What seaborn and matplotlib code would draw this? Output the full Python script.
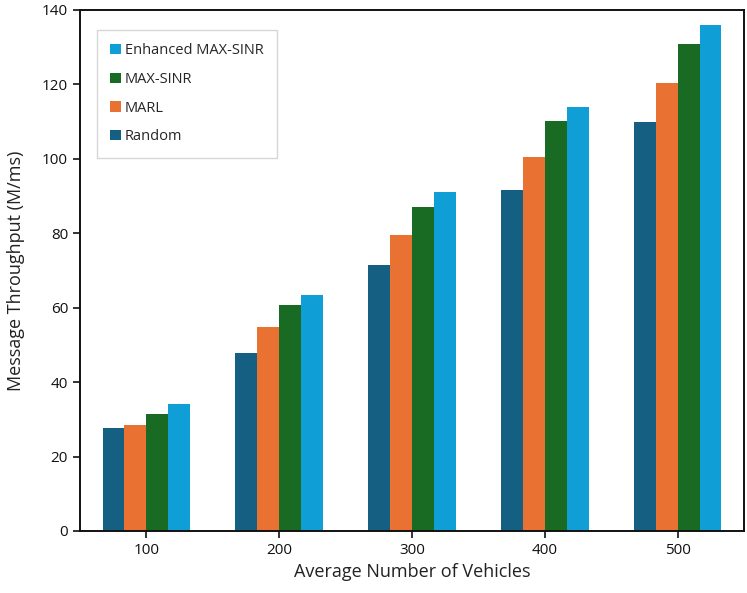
import numpy as np
import pandas as pd
import matplotlib
matplotlib.use("Agg")
import matplotlib.pyplot as plt
import seaborn as sns

# data
vehicles = ["100", "200", "300", "400", "500"]
random_tp = [27.6, 47.8, 71.5, 91.7, 110.0]
marl_tp = [28.6, 54.8, 79.6, 100.5, 120.5]
maxsinr_tp = [31.3, 60.6, 87.1, 110.2, 130.9]
enhanced_tp = [34.2, 63.3, 91.1, 114.0, 135.9]

methods = ["Random", "MARL", "MAX-SINR", "Enhanced MAX-SINR"]
colors = ["#156082", "#E97132", "#196B24", "#0F9ED5"]

df = pd.DataFrame({
    "vehicles": vehicles * 4,
    "throughput": random_tp + marl_tp + maxsinr_tp + enhanced_tp,
    "method": np.repeat(methods, len(vehicles)),
})

sns.set_style("white")
plt.rcParams["font.family"] = ["Open Sans", "DejaVu Sans"]

fig = plt.figure(figsize=(7.47, 5.93), dpi=100)
ax = fig.add_axes([0.107, 0.1046, 0.889, 0.8786])

sns.barplot(data=df, x="vehicles", y="throughput", hue="method",
            hue_order=methods, palette=colors, width=0.66,
            linewidth=0, saturation=1, ax=ax)

ax.set_xlim(-0.5, 4.5)
ax.set_ylim(0, 140)
ax.set_yticks(range(0, 141, 20))
ax.set_xlabel("Average Number of Vehicles", fontsize=13, color="#222222", labelpad=4)
ax.set_ylabel("Message Throughput (M/ms)", fontsize=13, color="#222222", labelpad=12)
ax.tick_params(axis="both", labelsize=11, length=5, width=1.2, direction="out",
               colors="#111111", bottom=True, left=True)

for s in ax.spines.values():
    s.set_visible(True)
    s.set_color("#111111")
    s.set_linewidth(1.4)

handles, labels = ax.get_legend_handles_labels()
leg = ax.legend(handles[::-1], labels[::-1], loc="upper left",
                bbox_to_anchor=(0.026, 0.962), borderaxespad=0,
                fontsize=10.5, frameon=True, fancybox=False,
                handlelength=0.7, handleheight=0.7, handletextpad=0.3,
                labelspacing=0.95, borderpad=0.9)
leg.get_frame().set_edgecolor("#cccccc")
leg.get_frame().set_linewidth(1.0)

fig.savefig("out.png", dpi=100)
